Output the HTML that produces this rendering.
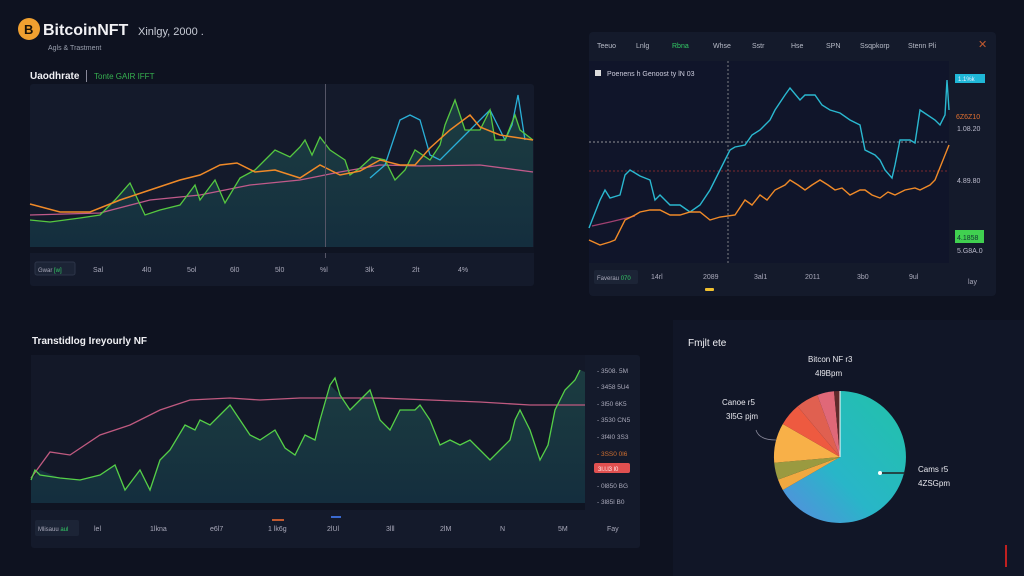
<!DOCTYPE html>
<html><head><meta charset="utf-8"><style>
body{margin:0;width:1024px;height:576px;background:#0e1220;overflow:hidden;font-family:"Liberation Sans",sans-serif;color:#d8dce6}
svg{position:absolute;left:0;top:0}
</style></head><body>
<svg width="1024" height="576" viewBox="0 0 1024 576" font-family="Liberation Sans, sans-serif">
<defs>
<linearGradient id="ga" x1="0" y1="0" x2="0" y2="1"><stop offset="0" stop-color="#1f4a4a" stop-opacity=".7"/><stop offset="1" stop-color="#143040" stop-opacity=".9"/></linearGradient>
<linearGradient id="pg" x1="1" y1="0" x2="0" y2="1"><stop offset="0" stop-color="#22c2a8"/><stop offset=".6" stop-color="#28b6c8"/><stop offset="1" stop-color="#5a8ae0"/></linearGradient>
</defs>
<rect width="1024" height="576" fill="#0e1220"/>
<!-- header -->
<circle cx="29" cy="29" r="11" fill="#f0a030"/>
<text x="24" y="34" font-size="13" font-weight="bold" fill="#1a1208">B</text>
<text x="43" y="35" font-size="16" font-weight="bold" fill="#f2f2f5">BitcoinNFT</text>
<text x="138" y="35" font-size="11" fill="#c8ccd6">Xinlgy, 2000 .</text>
<text x="48" y="50" font-size="7" fill="#9aa0ae">Agls &amp; Trastment</text>
<text x="30" y="79" font-size="10" font-weight="bold" fill="#f0f0f4">Uaodhrate</text>
<rect x="86" y="70" width="1" height="12" fill="#889"/>
<text x="94" y="79" font-size="8" fill="#36b050">Tonte GAIR IFFT</text>
<!-- top-left panel -->
<rect x="30" y="84" width="504" height="202" rx="3" fill="#141a2b"/>
<path d="M30,220 50,222 80,218 100,215 115,200 130,183 145,215 160,210 180,205 195,185 200,200 215,180 225,203 240,178 255,170 265,160 275,150 290,157 300,147 305,140 312,155 320,137 330,150 345,160 350,175 360,168 372,157 385,160 395,180 405,170 415,150 430,160 440,145 445,125 455,100 465,130 480,130 490,110 495,140 505,140 515,115 520,130 533,140 533,247 30,247Z" fill="url(#ga)"/>
<polyline fill="none" stroke="#c05a8a" stroke-width="1.3" points="30,215 100,213 150,200 200,195 250,185 300,180 340,172 380,165 420,166 480,165 533,172"/>
<polyline fill="none" stroke="#2ab0d8" stroke-width="1.3" points="370,178 385,165 390,150 400,120 410,115 420,120 430,155 440,160 470,130 480,120 490,110 505,140 512,125 518,95 525,140"/>
<polyline fill="none" stroke="#55c840" stroke-width="1.3" points="30,220 50,222 80,218 100,215 115,200 130,183 145,215 160,210 180,205 195,185 200,200 215,180 225,203 240,178 255,170 265,160 275,150 290,157 300,147 305,140 312,155 320,137 330,150 345,160 350,175 360,168 372,157 385,160 395,180 405,170 415,150 430,160 440,145 445,125 455,100 465,130 480,130 490,110 495,140 505,140 515,115 520,130 533,140"/>
<polyline fill="none" stroke="#f08a28" stroke-width="1.5" points="30,204 60,212 90,212 120,200 150,190 180,180 200,175 220,165 237,163 255,172 275,170 300,178 320,165 340,175 360,171 380,160 400,165 415,165 430,148 450,130 470,115 480,127 500,135 533,140"/>
<rect x="325" y="84" width="1" height="174" fill="#556"/>
<rect x="30" y="247" width="504" height="6" fill="#0f1422"/>
<rect x="35" y="262" width="40" height="13" rx="2" fill="#1c2436" stroke="#2c3448"/>
<text x="38" y="272" font-size="6" fill="#aab">Gwar <tspan fill="#3c6">[w]</tspan></text>
<g font-size="7" fill="#aab"><text x="93" y="272">Sal</text><text x="142" y="272">4l0</text><text x="187" y="272">5ol</text><text x="230" y="272">6l0</text><text x="275" y="272">5l0</text><text x="320" y="272">%l</text><text x="365" y="272">3lk</text><text x="412" y="272">2lt</text><text x="458" y="272">4%</text></g>
<!-- top-right panel -->
<rect x="589" y="32" width="407" height="264" rx="4" fill="#141a2b"/>
<rect x="589" y="61" width="360" height="202" fill="#10152a"/>
<g font-size="7" fill="#b8bcc8"><text x="597" y="48">Teeuo</text><text x="636" y="48">Lnlg</text><text x="672" y="48" fill="#3c6">Rbna</text><text x="713" y="48">Whse</text><text x="752" y="48">Sstr</text><text x="791" y="48">Hse</text><text x="826" y="48">SPN</text><text x="860" y="48">Ssqpkorp</text><text x="908" y="48">Stenn Pli</text></g>
<text x="978" y="48" font-size="11" fill="#c05a30">✕</text>
<rect x="595" y="70" width="6" height="6" fill="#ddd"/>
<text x="607" y="76" font-size="7" fill="#ccd">Poenens h Genoost ty lN 03</text>
<line x1="589" y1="142" x2="949" y2="142" stroke="#bbb" stroke-dasharray="2,2" stroke-width=".7"/>
<line x1="589" y1="171" x2="949" y2="171" stroke="#a03030" stroke-dasharray="2,2" stroke-width=".8"/>
<line x1="728" y1="61" x2="728" y2="263" stroke="#aaa" stroke-dasharray="2,2" stroke-width=".7"/>
<polyline fill="none" stroke="#a04070" stroke-width="1.2" points="592,226 610,222 635,216"/>
<polyline fill="none" stroke="#2ab8d0" stroke-width="1.4" points="589,228 600,200 605,190 610,198 620,195 625,175 630,170 640,176 650,180 655,200 660,195 670,205 680,205 690,212 700,205 710,190 720,170 730,150 735,147 745,145 752,135 760,130 770,120 775,110 785,95 790,88 800,100 805,95 815,95 822,105 830,110 840,113 850,120 860,125 865,150 875,155 880,160 885,170 892,178 895,165 900,140 910,140 915,143 920,110 935,120 940,125 945,115 947,80 949,110"/>
<polyline fill="none" stroke="#f08a28" stroke-width="1.4" points="589,240 600,245 610,242 615,240 625,220 635,215 640,212 650,210 660,210 670,215 680,215 690,212 700,212 710,220 720,217 735,215 745,200 752,205 760,195 767,200 775,190 785,185 790,180 798,185 805,190 812,185 820,180 828,185 835,190 842,188 850,195 860,190 865,190 872,195 880,198 888,192 895,195 905,190 915,188 920,190 930,185 935,180 943,160 949,145"/>
<rect x="955" y="74" width="30" height="9" fill="#1fb8d8"/>
<text x="958" y="81" font-size="6" fill="#eef">1.1%k</text>
<text x="956" y="119" font-size="7" fill="#e07030">6Z6Z10</text>
<text x="957" y="131" font-size="7" fill="#bbc">1.08.20</text>
<text x="957" y="183" font-size="7" fill="#bbc">4.89.80</text>
<rect x="955" y="230" width="29" height="13" fill="#40d050"/>
<text x="957" y="240" font-size="7" fill="#133">4.1858</text>
<text x="957" y="253" font-size="7" fill="#bbc">5.G8A.0</text>
<rect x="594" y="270" width="44" height="14" rx="2" fill="#1c2436"/>
<text x="597" y="280" font-size="6" fill="#aab">Faverau <tspan fill="#3c6">070</tspan></text>
<g font-size="7" fill="#aab"><text x="651" y="279">14rl</text><text x="703" y="279">2089</text><text x="754" y="279">3al1</text><text x="805" y="279">2011</text><text x="857" y="279">3b0</text><text x="909" y="279">9ul</text><text x="968" y="284">lay</text></g>
<rect x="705" y="288" width="9" height="3" rx="1" fill="#f0c030"/>
<!-- bottom-left -->
<text x="32" y="344" font-size="10" font-weight="bold" fill="#f0f0f4">Transtidlog Ireyourly NF</text>
<rect x="31" y="355" width="609" height="193" rx="3" fill="#141a2b"/>
<rect x="31" y="355" width="554" height="148" fill="#131828"/>
<path d="M31,480 40,470 60,478 80,480 100,475 115,465 125,490 140,470 150,490 160,460 170,450 185,425 195,430 200,420 210,425 220,415 230,405 240,420 250,435 260,440 275,430 285,448 295,455 305,435 315,440 320,420 330,385 340,395 350,410 360,400 370,390 380,420 390,430 400,410 415,410 420,405 430,420 440,445 450,440 460,445 470,440 480,450 490,460 500,450 510,440 515,420 520,410 530,430 540,460 548,445 555,410 565,390 575,380 580,370 585,372 585,503 31,503Z" fill="url(#ga)"/>
<polyline fill="none" stroke="#c05a80" stroke-width="1.3" points="31,478 50,452 70,455 100,435 130,425 160,410 190,400 230,398 260,400 300,398 380,398 430,400 480,402 530,405 585,405"/>
<polyline fill="none" stroke="#55d048" stroke-width="1.3" points="31,480 35,470 40,475 60,478 80,480 100,475 115,465 125,490 140,470 150,490 160,460 170,450 185,425 195,430 200,420 210,425 220,415 230,405 240,420 250,435 260,440 275,430 285,448 295,455 305,435 315,440 320,420 330,385 335,378 340,395 350,410 360,400 370,390 380,420 390,430 400,410 415,410 420,405 430,420 440,445 450,440 460,445 470,440 480,450 490,460 500,450 510,440 515,420 520,410 530,430 540,460 548,445 555,410 565,390 575,380 580,370"/>
<rect x="31" y="503" width="554" height="7" fill="#0f1422"/>
<g font-size="6.5" fill="#aab"><text x="597" y="373">- 3508. 5M</text><text x="597" y="389">- 3458 5U4</text><text x="597" y="406">- 3l50 6K5</text><text x="597" y="422">- 3530 CN5</text><text x="597" y="439">- 3f4l0 3S3</text><text x="597" y="456" fill="#d07030">- 3SS0 0l6</text><text x="597" y="488">- 0l850 BG</text><text x="597" y="504">- 3l85l B0</text></g>
<rect x="594" y="463" width="36" height="10" rx="2" fill="#e05050"/>
<text x="598" y="471" font-size="6" fill="#fee">3l.l.l3 l0</text>
<rect x="35" y="520" width="44" height="16" rx="2" fill="#1c2436"/>
<text x="38" y="531" font-size="6" fill="#aab">Mlisauu <tspan fill="#3c6">aul</tspan></text>
<rect x="272" y="519" width="12" height="2" fill="#c05a30"/><rect x="331" y="516" width="10" height="2" fill="#3a6ad0"/>
<g font-size="7" fill="#aab"><text x="94" y="531">lel</text><text x="150" y="531">1lkna</text><text x="210" y="531">e6l7</text><text x="268" y="531">1 lk6g</text><text x="327" y="531">2lUl</text><text x="386" y="531">3lll</text><text x="440" y="531">2lM</text><text x="500" y="531">N</text><text x="558" y="531">5M</text><text x="607" y="531">Fay</text></g>
<!-- pie panel -->
<rect x="673" y="320" width="351" height="256" fill="#111627"/>
<text x="688" y="346" font-size="10" fill="#f0f0f4">Fmjlt ete</text>
<g transform="translate(840,457)">
<path d="M0,0 L0,-66 A66,66 0 1 1 -57.2,33 Z" fill="url(#pg)"/>
<path d="M0,0 L-57.2,33 A66,66 0 0 1 -62,22.6 Z" fill="#f0a840"/>
<path d="M0,0 L-62,22.6 A66,66 0 0 1 -65.8,5.8 Z" fill="#9a9a40"/>
<path d="M0,0 L-65.8,5.8 A66,66 0 0 1 -57.2,-33 Z" fill="#f8b048"/>
<path d="M0,0 L-57.2,-33 A66,66 0 0 1 -42.4,-50.6 Z" fill="#ee5a40"/>
<path d="M0,0 L-42.4,-50.6 A66,66 0 0 1 -22.6,-62 Z" fill="#e06050"/>
<path d="M0,0 L-22.6,-62 A66,66 0 0 1 -6,-65.7 Z" fill="#e06878"/>
<path d="M0,0 L-6,-65.7 A66,66 0 0 1 0,-66 Z" fill="#602a2a"/>
<line x1="0" y1="0" x2="0" y2="-66" stroke="#fff" stroke-width="1"/>
</g>
<line x1="880" y1="473" x2="905" y2="473" stroke="#222" stroke-width="1.5"/><circle cx="880" cy="473" r="2" fill="#fff"/>
<g font-size="8" fill="#e8e8ee">
<text x="808" y="362">Bitcon NF r3</text><text x="815" y="376">4l9Bpm</text>
<text x="722" y="405">Canoe r5</text><text x="726" y="419">3l5G pjm</text>
<text x="918" y="472">Cams r5</text><text x="918" y="486">4ZSGpm</text>
</g>
<path d="M756,430 q3,10 20,10" fill="none" stroke="#889" stroke-width=".8"/>
<rect x="1005" y="545" width="2" height="22" fill="#c02020"/>
</svg>
</body></html>
